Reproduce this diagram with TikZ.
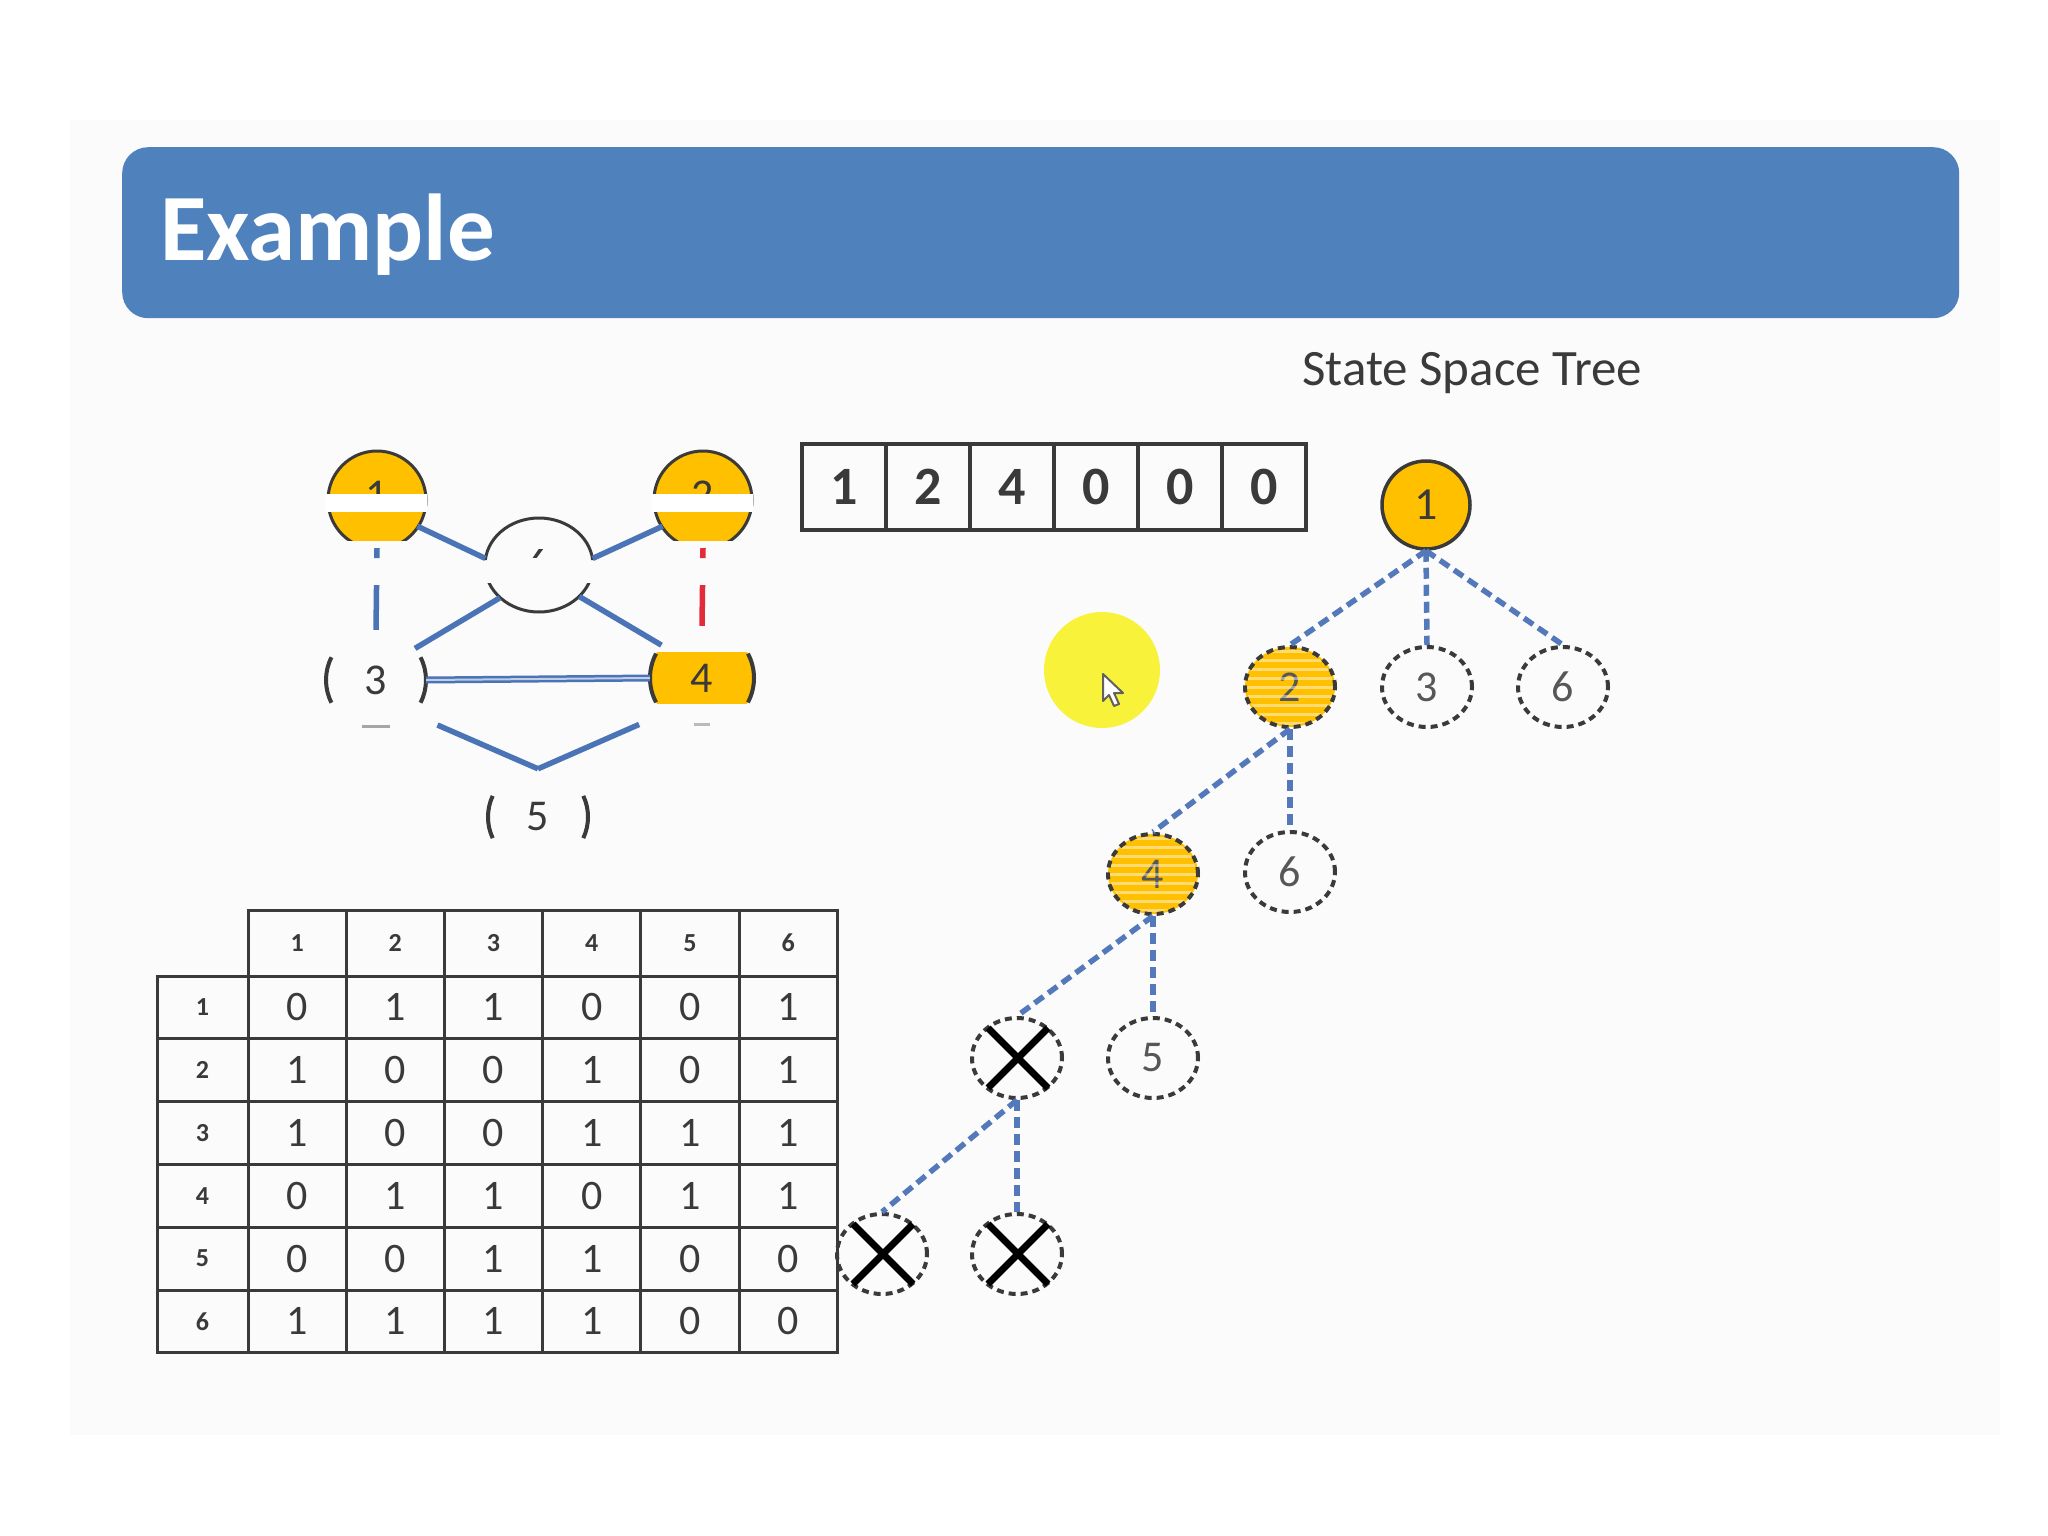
\documentclass[tikz,border=0pt]{standalone}
\usepackage{fontspec}
\setmainfont{Carlito}
\usetikzlibrary{shapes.geometric}
\definecolor{barblue}{HTML}{4F81BD}
\definecolor{edgeblue}{HTML}{4A74B5}
\definecolor{tblue}{HTML}{5479BA}
\definecolor{gold}{HTML}{FFC000}
\definecolor{ink}{HTML}{3A3A3A}
\definecolor{hl}{HTML}{F8F23A}
\definecolor{redge}{HTML}{E22C3A}
\definecolor{slidebg}{HTML}{FBFBFB}
\newcommand\myfs[1]{\fontsize{#1}{#1}\selectfont}
\tikzset{
  gedge/.style={draw=edgeblue, line width=5.5pt},
  tedge/.style={draw=tblue, line width=5.5pt, dash pattern=on 11pt off 6pt},
  tnode/.style={ellipse, minimum width=90pt, minimum height=80pt, inner sep=0pt,
     draw=ink, line width=4pt, dash pattern=on 7pt off 5pt, text=ink!85, font=\myfs{44}},
  rootnode/.style={circle, minimum size=88pt, inner sep=0pt, fill=gold, draw=ink,
     line width=3.5pt, text=ink, font=\myfs{46}},
  acell/.style={rectangle, minimum width=84pt, minimum height=86pt, inner sep=0pt,
     draw=ink, line width=4pt, font=\bfseries\myfs{54}, text=ink},
  hcell/.style={rectangle, minimum width=98.2pt, minimum height=66pt, inner sep=0pt,
     draw=ink, line width=3pt, font=\bfseries\myfs{26}, text=ink},
  rcell/.style={rectangle, minimum width=91pt, minimum height=62.8pt, inner sep=0pt,
     draw=ink, line width=3pt, font=\bfseries\myfs{26}, text=ink},
  bcell/.style={rectangle, minimum width=98.2pt, minimum height=62.8pt, inner sep=0pt,
     draw=ink, line width=3pt, font=\myfs{42}, text=ink},
  gnode/.style={circle, inner sep=0pt, font=\myfs{44}, text=ink},
  arcline/.style={draw=ink, line width=4pt},
}
\begin{document}
\begin{tikzpicture}[x=1pt,y=-1pt]
\useasboundingbox (0,0) rectangle (2048,1536);
\fill[white] (0,0) rectangle (2048,1536);
\fill[slidebg] (70,120) rectangle (2000,1435);

% title bar
\node[fill=barblue, rounded corners=26pt, minimum width=1837pt, minimum height=171pt,
      anchor=north west, inner sep=0pt] (bar) at (122,147) {};
\node[anchor=base west, inner sep=0pt, text=white, font=\bfseries\myfs{95}] (title) at (160,260) {Example};
\node[anchor=base west, inner sep=0pt, text=ink, font=\myfs{51}] (sst) at (1302,385) {State Space Tree};

% ---------- graph ----------
\node[gnode, minimum size=96pt] (g1) at (377,500) {};
\node[gnode, minimum size=96pt] (g2) at (703,500) {};
\node[ellipse, inner sep=0pt, minimum width=108pt, minimum height=94pt] (g6) at (539,565) {};
\node[gnode, minimum size=100pt] (g3) at (376,680) {};
\node[gnode, minimum size=104pt] (g4) at (702,678) {};
\node[gnode, minimum size=96pt] (g5) at (538,817) {};

% node 1 and 2 (partly hidden)
\foreach \n/\t in {g1/1,g2/2}{
  \begin{scope}
    \clip ([shift={(-60,-60)}]\n.center) rectangle ([shift={(60,40)}]\n.center);
    \fill[gold] (\n.center) circle (49pt);
    \draw[arcline, line width=3pt] (\n.center) circle (49pt);
  \end{scope}
  \node[gnode, text=ink] at ([shift={(0,-5)}]\n.center) {\t};
  \fill[white] ([shift={(-52,-6)}]\n.center) rectangle ([shift={(50,12)}]\n.center);
}
% node 6 (partly hidden)
\begin{scope}
  \clip (470,505) rectangle (610,560) (470,583) rectangle (610,625);
  \draw[arcline, line width=3pt] (g6.center) ellipse [x radius=54pt, y radius=47pt];
\end{scope}
\begin{scope}
  \clip (520,549) rectangle (558,557);
  \node[gnode] at (539,563) {6};
\end{scope}
% node 3
\node[gnode] (l3) at (g3.center) {3};
\draw[arcline] (g3.center) ++(-27:50pt) arc[start angle=-27, end angle=27, radius=50pt];
\draw[arcline] (g3.center) ++(153:50pt) arc[start angle=153, end angle=207, radius=50pt];
\draw[draw=ink!45, line width=3pt] ([shift={(-14,-4)}]g3.south) -- ([shift={(14,-4)}]g3.south);
% node 4
\begin{scope}
  \clip (640,652) rectangle (765,703);
  \fill[gold] (g4.center) circle (52pt);
\end{scope}
\node[gnode] (l4) at (g4.center) {4};
\draw[arcline] (g4.center) ++(-28:52pt) arc[start angle=-28, end angle=28, radius=52pt];
\draw[arcline] (g4.center) ++(152:52pt) arc[start angle=152, end angle=208, radius=52pt];
\draw[draw=ink!35, line width=3pt] ([shift={(-8,-6)}]g4.south) -- ([shift={(8,-6)}]g4.south);
% node 5
\node[gnode] (l5) at (g5.center) {5};
\draw[arcline] (g5.center) ++(-25:50pt) arc[start angle=-25, end angle=25, radius=50pt];
\draw[arcline] (g5.center) ++(155:50pt) arc[start angle=155, end angle=205, radius=50pt];

% graph edges
\draw[gedge] (g1.-33) -- (g6.173);
\draw[gedge] (g2.-147) -- (g6.7);
\draw[gedge] (g3.39) -- (g6.-140);
\draw[gedge] (g6.-38) -- (g4.141);
\draw[draw=edgeblue, line width=2.5pt, double=edgeblue!35!white, double distance=2pt] (g3.east) -- (g4.west);
\draw[gedge, dash pattern=on 10pt off 27pt on 200pt] (g1.south) -- (g3.north);
\draw[gedge, draw=redge, dash pattern=on 10pt off 27pt on 200pt] (g2.south) -- (g4.north);
\draw[gedge, shorten <=27pt] (g3.-43) -- (g5.north);
\draw[gedge, shorten <=27pt] (g4.-137) -- (g5.north);

% ---------- array ----------
\foreach \v [count=\i] in {1,2,4,0,0,0}
  \node[acell] (a\i) at ({802+84*(\i-0.5)},487) {\v};

% ---------- highlight and cursor ----------
\node[circle, fill=hl, minimum size=116pt, inner sep=0pt] (hilite) at (1102,670) {};
\draw[fill=white, draw=ink!80, line width=2pt, line join=round]
  (1103,674) -- ++(0,27) -- ++(6,-6) -- ++(5,11) -- ++(5,-2) -- ++(-5,-11) -- ++(9,0) -- cycle;

% ---------- state space tree ----------
\node[rootnode] (root) at (1426,505) {1};
\node[tnode, fill=gold] (n2) at (1290,687) {2};
\node[tnode] (n3) at (1427,687) {3};
\node[tnode] (n6a) at (1563,687) {6};
\node[tnode, fill=gold] (n4) at (1153,874) {4};
\node[tnode] (n6b) at (1290,872) {6};
\node[tnode] (nx1) at (1017,1058) {};
\node[tnode] (n5) at (1153,1058) {5};
\node[tnode] (nx2) at (882,1254) {};
\node[tnode] (nx3) at (1017,1254) {};

\foreach \n in {n2,n4}{
  \begin{scope}
    \clip (\n.center) ellipse [x radius=43pt, y radius=38pt];
    \foreach \k in {-4,...,4}
      \draw[white, line width=3pt, opacity=.45] ([shift={(-50,\k*9)}]\n.center) -- ++(100,0);
  \end{scope}
}
\foreach \n in {nx1,nx2,nx3}{
  \draw[black, line width=7pt] ([shift={(-29,-30)}]\n.center) -- ([shift={(31,30)}]\n.center);
  \draw[black, line width=7pt] ([shift={(-29,30)}]\n.center) -- ([shift={(31,-30)}]\n.center);
}

\draw[tedge] (root.south) -- (n2.north);
\draw[tedge] (root.south) -- (n3.north);
\draw[tedge] (root.south) -- (n6a.north);
\draw[tedge] (n2.south) -- (n4.north);
\draw[tedge] (n2.south) -- (n6b.north);
\draw[tedge] (n4.south) -- (nx1.north);
\draw[tedge] (n4.south) -- (n5.north);
\draw[tedge] (nx1.south) -- (nx2.north);
\draw[tedge] (nx1.south) -- (nx3.north);

% ---------- adjacency table ----------
\foreach \j in {1,...,6}
  \node[hcell] (h\j) at ({248+98.2*(\j-0.5)},943) {\j};
\foreach \row [count=\r] in {{0,1,1,0,0,1},{1,0,0,1,0,1},{1,0,0,1,1,1},{0,1,1,0,1,1},{0,0,1,1,0,0},{1,1,1,1,0,0}}{
  \node[rcell] (r\r) at (202.5,{976+62.8*(\r-0.5)}) {\r};
  \foreach \v [count=\c] in \row
    \node[bcell] (t\r\c) at ({248+98.2*(\c-0.5)},{976+62.8*(\r-0.5)}) {\v};
}
\end{tikzpicture}
\end{document}
